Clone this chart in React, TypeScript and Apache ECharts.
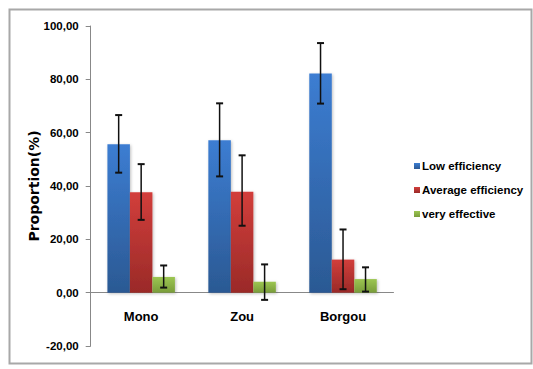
import React, { useEffect, useRef } from "react";
import * as echarts from "echarts";

const categories = ["Mono", "Zou", "Borgou"];
const seriesNames = ["Low efficiency", "Average efficiency", "very effective"];
const lowEff = [55.7, 57.2, 82.2];
const avgEff = [37.7, 37.8, 12.4];
const veryEff = [5.9, 4.1, 5.1];
const lowErr = [[45.0, 66.6], [43.6, 71.0], [70.9, 93.6]];
const avgErr = [[27.3, 48.2], [25.1, 51.5], [1.3, 23.7]];
const veryErr = [[1.9, 10.2], [-2.7, 10.6], [0.4, 9.5]];

const FONT = '"Liberation Sans", Arial, sans-serif';

const grad = (top: string, bottom: string) =>
  new echarts.graphic.LinearGradient(0, 0, 0, 1, [
    { offset: 0, color: top },
    { offset: 1, color: bottom },
  ]);

export default function App() {
  const ref = useRef<HTMLDivElement>(null);
  useEffect(() => {
    if (!ref.current) return;
    const chart = echarts.init(ref.current, null, { renderer: "svg" });
    const barW = 22.5;
    const values = [lowEff, avgEff, veryEff];
    const errs = [lowErr, avgErr, veryErr];
    const colors = [
      ["#3c7dd2", "#2b5993"],
      ["#d23e3b", "#9a2a28"],
      ["#9cc652", "#799c3a"],
    ];
    const errData: number[][] = [];
    errs.forEach((e, s) =>
      e.forEach((pair, c) => errData.push([c, pair[0], pair[1], s]))
    );
    chart.setOption({
      animation: false,
      backgroundColor: "#fff",
      graphic: [
        {
          type: "rect",
          shape: { x: 9.5, y: 9.5, width: 522, height: 354 },
          style: { fill: "none", stroke: "#a8a8a8", lineWidth: 2 },
          z: -10,
        },
      ],
      grid: { left: 90.7, right: 139.5, top: 26, bottom: 23, containLabel: false, outerBoundsMode: "none" },
      legend: {
        orient: "vertical",
        left: 409,
        top: 155,
        itemWidth: 6,
        itemHeight: 6,
        itemGap: 12,
        icon: "rect",
        data: seriesNames,
        textStyle: { fontFamily: FONT, fontWeight: "bold", fontSize: 11.5, color: "#000", padding: [0, 0, 0, -3] },
      },
      xAxis: {
        type: "category",
        data: categories,
        axisLine: { onZero: true, lineStyle: { color: "#888", width: 1 } },
        axisTick: { show: false },
        axisLabel: { show: false },
      },
      yAxis: {
        type: "value",
        min: -20,
        max: 100,
        interval: 20,
        name: "Proportion(%)",
        nameLocation: "middle",
        nameGap: 50,
        nameMoveOverlap: false,
        nameTextStyle: { fontFamily: "DejaVu Sans", fontWeight: "bold", fontSize: 14, color: "#000" },
        axisLine: { show: true, lineStyle: { color: "#888", width: 1 } },
        axisTick: { show: true, length: 5, lineStyle: { color: "#888" } },
        splitLine: { show: false },
        axisLabel: {
          fontFamily: FONT,
          fontWeight: "bold",
          fontSize: 11.5,
          color: "#000",
          margin: 12,
          formatter: (v: number) => v.toFixed(2).replace(".", ","),
        },
      },
      series: [
        ...values.map((d, i) => ({
          name: seriesNames[i],
          type: "bar",
          data: d,
          barWidth: barW,
          barGap: "0%",
          itemStyle: {
            color: grad(colors[i][0], colors[i][1]),
            shadowColor: "rgba(0,0,0,0.25)",
            shadowBlur: 3,
            shadowOffsetX: 1,
            shadowOffsetY: 1,
          },
          emphasis: { disabled: true },
        })),
        {
          type: "custom",
          name: "err",
          data: errData,
          z: 10,
          silent: true,
          renderItem: (params: any, api: any) => {
            const c = api.value(0);
            const lo = api.value(1);
            const hi = api.value(2);
            const s = api.value(3);
            const pLo = api.coord([c, lo]);
            const pHi = api.coord([c, hi]);
            const x = pLo[0] + (s - 1) * barW;
            const cap = 3.5;
            const style = { stroke: "#111", lineWidth: 1.5 };
            return {
              type: "group",
              children: [
                { type: "line", shape: { x1: x, y1: pLo[1], x2: x, y2: pHi[1] }, style },
                { type: "line", shape: { x1: x - cap, y1: pHi[1], x2: x + cap, y2: pHi[1] }, style: { stroke: "#111", lineWidth: 2 } },
                { type: "line", shape: { x1: x - cap, y1: pLo[1], x2: x + cap, y2: pLo[1] }, style: { stroke: "#111", lineWidth: 2 } },
              ],
            };
          },
        },
        {
          type: "custom",
          name: "catLabels",
          data: categories.map((c, i) => [i, 0]),
          silent: true,
          renderItem: (params: any, api: any) => {
            const p = api.coord([api.value(0), 0]);
            return {
              type: "text",
              x: p[0],
              y: p[1] + 24,
              style: {
                text: categories[params.dataIndex],
                fontFamily: FONT,
                fontWeight: "bold",
                fontSize: 13,
                fill: "#000",
                align: "center",
                verticalAlign: "middle",
              },
            };
          },
        },
      ],
    });
    return () => chart.dispose();
  }, []);
  return <div ref={ref} style={{ width: 533, height: 369, position: "absolute", left: 0, top: 0 }} />;
}
